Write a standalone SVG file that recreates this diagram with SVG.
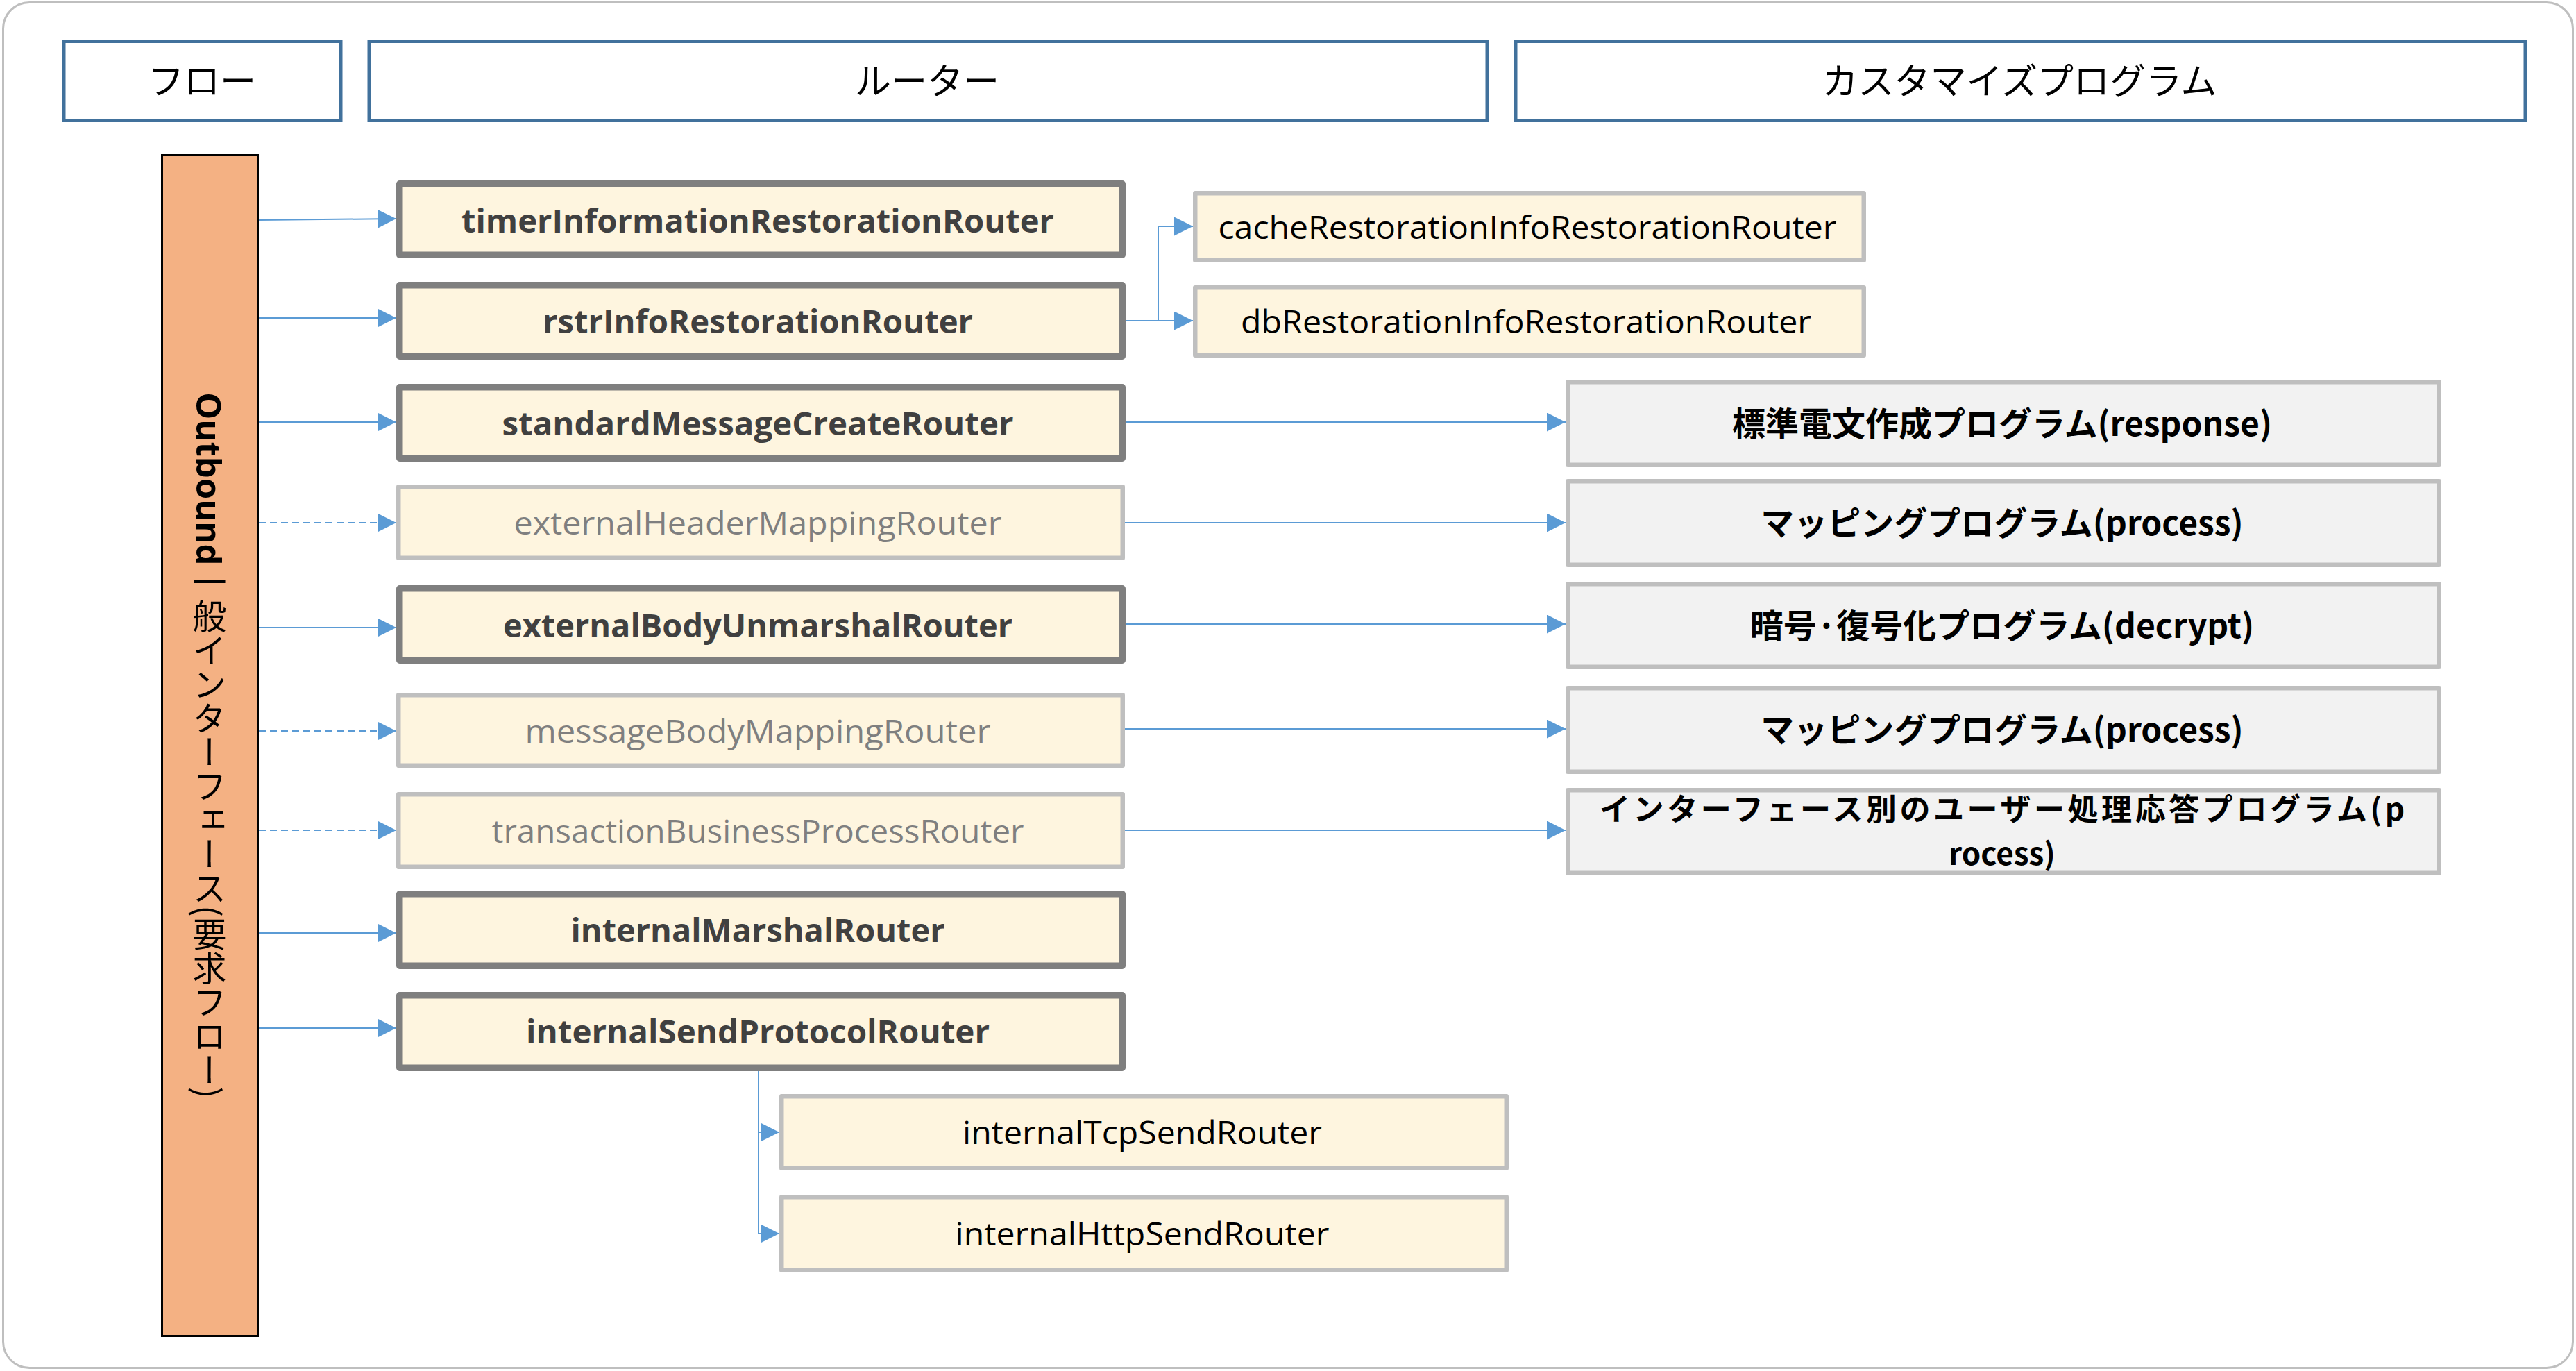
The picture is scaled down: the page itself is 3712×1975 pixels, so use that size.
<svg xmlns="http://www.w3.org/2000/svg" width="3712" height="1975" viewBox="0 0 3712 1975">
<style>
.hdr{fill:#fff;stroke:#41719C;stroke-width:5}
.htx{font-family:"Noto Sans CJK JP",sans-serif;font-size:52px;fill:#000;text-anchor:middle}
.rb{fill:#FEF5DF;stroke:#7F7F7F;stroke-width:9.5;stroke-linejoin:round}
.rl{fill:#FEF5DF;stroke:#BFBFBF;stroke-width:6.5;stroke-linejoin:round}
.pb{fill:#F2F2F2;stroke:#BFBFBF;stroke-width:6.5;stroke-linejoin:round}
.tb{font-family:"Open Sans","Noto Sans",sans-serif;font-size:46px;font-weight:bold;fill:#404040;text-anchor:middle}
.tl{font-family:"Open Sans","Noto Sans",sans-serif;font-size:46px;fill:#7F7F7F;text-anchor:middle}
.tn{font-family:"Open Sans","Noto Sans",sans-serif;font-size:46px;fill:#000;text-anchor:middle}
.tp{font-family:"Noto Sans CJK JP",sans-serif;font-size:48px;font-weight:bold;fill:#000;text-anchor:middle}
.tp2{font-family:"Noto Sans CJK JP",sans-serif;font-size:44px;font-weight:bold;fill:#000;text-anchor:middle}
.c{fill:none;stroke:#5B9BD5;stroke-width:2}
.ca{fill:none;stroke:#5B9BD5;stroke-width:2;marker-end:url(#ah)}
.cd{fill:none;stroke:#5B9BD5;stroke-width:2;stroke-dasharray:10 6;marker-end:url(#ah)}
</style>
<defs>
<marker id="ah" markerUnits="userSpaceOnUse" markerWidth="27" markerHeight="27" refX="27" refY="13.5" orient="auto">
<path d="M0,0 L27,13.5 L0,27 Z" fill="#5B9BD5"/>
</marker>
</defs>
<rect x="0" y="0" width="3712" height="1975" fill="#fff"/>
<rect id="frame" x="4.5" y="3.5" width="3703" height="1967" rx="38" ry="38" fill="#fff" stroke="#BFBFBF" stroke-width="3"/>

<g id="hdr-flow"><rect class="hdr" x="92" y="59.5" width="399" height="114"/><text class="htx" x="291" y="136">フロー</text></g>
<g id="hdr-router"><rect class="hdr" x="532" y="59.5" width="1611" height="114"/><text class="htx" x="1336" y="136">ルーター</text></g>
<g id="hdr-custom"><rect class="hdr" x="2184" y="59.5" width="1455" height="114"/><text class="htx" x="2910" y="136">カスタマイズプログラム</text></g>

<g id="flow-bar">
<rect x="233.5" y="223.5" width="138" height="1701" fill="#F4B183" stroke="#000" stroke-width="3"/>
<text x="302" y="1074" style="writing-mode:vertical-rl" text-anchor="middle" font-family="'Open Sans','Noto Sans CJK JP',sans-serif" font-size="49px" fill="#000"><tspan font-weight="bold">Outbound</tspan><tspan font-family="'Noto Sans CJK JP',sans-serif">一般インターフェース(要求フロー)</tspan></text>
</g>

<g id="connectors">
<path class="ca" d="M373,317 L571,315"/>
<path class="ca" d="M373,458 H571"/>
<path class="ca" d="M373,608 H571"/>
<path class="cd" d="M373,753 H571"/>
<path class="ca" d="M373,904 H571"/>
<path class="cd" d="M373,1053 H571"/>
<path class="cd" d="M373,1196 H571"/>
<path class="ca" d="M373,1344 H571"/>
<path class="ca" d="M373,1481 H571"/>
<path class="ca" d="M1622,462 H1719"/>
<path class="ca" d="M1669,462 V326 H1719"/>
<path class="ca" d="M1620,608 H2256"/>
<path class="ca" d="M1620,753 H2256"/>
<path class="ca" d="M1620,899 H2256"/>
<path class="ca" d="M1620,1050 H2256"/>
<path class="ca" d="M1620,1196 H2256"/>
<path class="c" d="M1093,1543 V1777"/>
<path class="ca" d="M1093,1631 H1123"/>
<path class="ca" d="M1093,1777 H1123"/>
</g>

<g id="r-timer"><rect class="rb" x="575.75" y="264.75" width="1041.5" height="102.5"/><text class="tb" x="1092" y="335" textLength="854" lengthAdjust="spacingAndGlyphs">timerInformationRestorationRouter</text></g>
<g id="r-rstr"><rect class="rb" x="575.75" y="410.75" width="1041.5" height="102.5"/><text class="tb" x="1092" y="480" textLength="620" lengthAdjust="spacingAndGlyphs">rstrInfoRestorationRouter</text></g>
<g id="r-standard"><rect class="rb" x="575.75" y="557.75" width="1041.5" height="102.5"/><text class="tb" x="1092" y="627" textLength="737" lengthAdjust="spacingAndGlyphs">standardMessageCreateRouter</text></g>
<g id="r-exthdr"><rect class="rl" x="574.25" y="701.25" width="1043.5" height="102.5"/><text class="tl" x="1092" y="770" textLength="703" lengthAdjust="spacingAndGlyphs">externalHeaderMappingRouter</text></g>
<g id="r-extbody"><rect class="rb" x="575.75" y="847.75" width="1041.5" height="103.5"/><text class="tb" x="1092" y="918" textLength="734" lengthAdjust="spacingAndGlyphs">externalBodyUnmarshalRouter</text></g>
<g id="r-msgbody"><rect class="rl" x="574.25" y="1001.25" width="1043.5" height="101.5"/><text class="tl" x="1092" y="1070" textLength="671" lengthAdjust="spacingAndGlyphs">messageBodyMappingRouter</text></g>
<g id="r-trans"><rect class="rl" x="574.25" y="1144.25" width="1043.5" height="104.5"/><text class="tl" x="1092" y="1214" textLength="767" lengthAdjust="spacingAndGlyphs">transactionBusinessProcessRouter</text></g>
<g id="r-marshal"><rect class="rb" x="575.75" y="1287.75" width="1041.5" height="103.5"/><text class="tb" x="1092" y="1357" textLength="539" lengthAdjust="spacingAndGlyphs">internalMarshalRouter</text></g>
<g id="r-send"><rect class="rb" x="575.75" y="1433.75" width="1041.5" height="104.5"/><text class="tb" x="1092" y="1503" textLength="668" lengthAdjust="spacingAndGlyphs">internalSendProtocolRouter</text></g>

<g id="r-cache"><rect class="rl" x="1722.25" y="278.25" width="963.5" height="96.5"/><text class="tn" x="2201" y="344" textLength="891" lengthAdjust="spacingAndGlyphs">cacheRestorationInfoRestorationRouter</text></g>
<g id="r-db"><rect class="rl" x="1722.25" y="414.25" width="963.5" height="97.5"/><text class="tn" x="2199" y="480" textLength="822" lengthAdjust="spacingAndGlyphs">dbRestorationInfoRestorationRouter</text></g>
<g id="r-tcp"><rect class="rl" x="1126.25" y="1579.25" width="1044.5" height="103.5"/><text class="tn" x="1646" y="1648" textLength="518" lengthAdjust="spacingAndGlyphs">internalTcpSendRouter</text></g>
<g id="r-http"><rect class="rl" x="1126.25" y="1724.25" width="1044.5" height="105.5"/><text class="tn" x="1646" y="1794" textLength="539" lengthAdjust="spacingAndGlyphs">internalHttpSendRouter</text></g>

<g id="p-response"><rect class="pb" x="2259.25" y="550.25" width="1255.5" height="119.5"/><text class="tp" x="2885" y="628">標準電文作成プログラム(response)</text></g>
<g id="p-mapping1"><rect class="pb" x="2259.25" y="693.25" width="1255.5" height="120.5"/><text class="tp" x="2885" y="771">マッピングプログラム(process)</text></g>
<g id="p-decrypt"><rect class="pb" x="2259.25" y="841.25" width="1255.5" height="119.5"/><text class="tp" x="2885" y="919">暗号·復号化プログラム(decrypt)</text></g>
<g id="p-mapping2"><rect class="pb" x="2259.25" y="991.25" width="1255.5" height="120.5"/><text class="tp" x="2885" y="1069">マッピングプログラム(process)</text></g>
<g id="p-user"><rect class="pb" x="2259.25" y="1138.25" width="1255.5" height="119.5"/><text class="tp2" x="2885" y="1182" textLength="1160" lengthAdjust="spacing">インターフェース別のユーザー処理応答プログラム(p</text><text class="tp2" x="2885" y="1246">rocess)</text></g>
</svg>
